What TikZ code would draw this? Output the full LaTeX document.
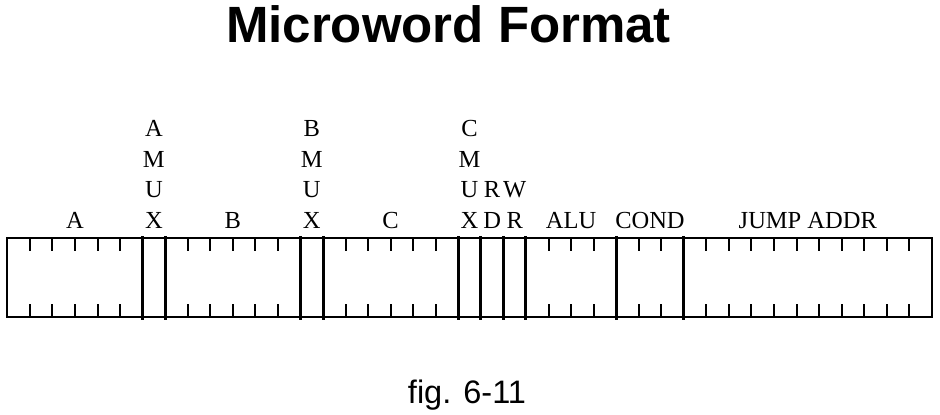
\documentclass[tikz,border=0pt]{standalone}
\usepackage{fontspec}
\setmainfont{Liberation Serif}
\newfontfamily\arialfont{Liberation Sans}
\begin{document}
\begin{tikzpicture}[x=1pt,y=-1pt,
  sepline/.style={line width=3pt},
  tickline/.style={line width=2pt},
  frameline/.style={line width=2pt},
  lab/.style={font=\fontsize{24.5}{30.6}\selectfont, anchor=base, inner sep=0pt, align=center},
]
\useasboundingbox (0,0) rectangle (940,415);
\def\bw{22.55}
\def\xo{7.3}
\node[font=\arialfont\bfseries\fontsize{51}{51}\selectfont, anchor=base, inner sep=0pt] (title) at (448.5,42.3) {Microword Format};
\node[font=\arialfont\fontsize{32.5}{32.5}\selectfont, anchor=base, inner sep=0pt] (fig) at (467,403) {fig. 6-11};
% frame
\draw[frameline] (\xo,238.3) rectangle ({\xo+41*\bw},316.7);
% ticks
\foreach \b in {1,2,3,4,5,8,9,10,11,12,15,16,17,18,19,24,25,26,28,29,31,32,33,34,35,36,37,38,39,40}
  \draw[tickline] ({\xo+\b*\bw},238.3) -- ++(0,12.7) ({\xo+\b*\bw},316.7) -- ++(0,-12.5);
% separators
\foreach \b in {6,7,13,14,20,21,22,23,27,30}
  \draw[sepline] ({\xo+\b*\bw},236) -- ({\xo+\b*\bw},319.5);
% labels
\node[lab] (la) at ({\xo+3*\bw},228.3) {A};
\node[lab] (lamux) at ({\xo+6.5*\bw},228.3) {A\\M\\U\\X};
\node[lab] (lb) at ({\xo+10*\bw},228.3) {B};
\node[lab] (lbmux) at ({\xo+13.5*\bw},228.3) {B\\M\\U\\X};
\node[lab] (lc) at ({\xo+17*\bw},228.3) {C};
\node[lab] (lcmux) at ({\xo+20.5*\bw},228.3) {C\\M\\U\\X};
\node[lab] (lrd) at ({\xo+21.5*\bw},228.3) {R\\D};
\node[lab] (lwr) at ({\xo+22.5*\bw},228.3) {W\\R};
\node[lab] (lalu) at ({\xo+25*\bw},228.3) {ALU};
\node[lab] (lcond) at ({\xo+28.5*\bw},228.3) {COND};
\node[lab] (ljump) at ({\xo+35.5*\bw},228.3) {JUMP ADDR};
\end{tikzpicture}
\end{document}
